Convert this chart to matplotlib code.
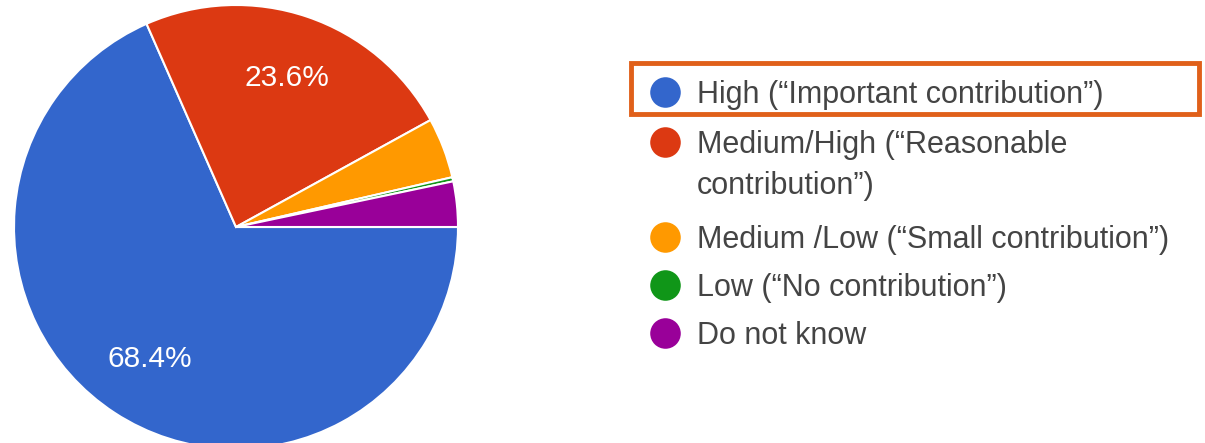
import matplotlib.pyplot as plt
from matplotlib.patches import Rectangle

plt.rcParams['font.family'] = ['Liberation Sans', 'DejaVu Sans']

# survey answers (share of respondents, %)
labels = [
    "High (\u201cImportant contribution\u201d)",
    "Medium/High (\u201cReasonable\ncontribution\u201d)",
    "Medium /Low (\u201cSmall contribution\u201d)",
    "Low (\u201cNo contribution\u201d)",
    "Do not know",
]
shares = [68.4, 23.6, 4.4, 0.3, 3.3]
colors = ["#3366CC", "#DC3912", "#FF9900", "#109618", "#990099"]

W, H = 1205, 443
fig = plt.figure(figsize=(W / 100, H / 100), dpi=100)

# pie: centre (236, 227) px, radius 222 px
cx, cy, r = 236, 227, 222
ax = fig.add_axes([(cx - r) / W, (H - cy - r) / H, 2 * r / W, 2 * r / H])


def pct(v):
    return f"{v:.1f}%" if v > 10 else ""


wedges, texts, autotexts = ax.pie(
    shares, colors=colors, startangle=0, counterclock=False,
    autopct=pct, pctdistance=0.71, radius=1,
    wedgeprops=dict(edgecolor="white", linewidth=1.5),
    textprops=dict(color="white", fontsize=21.5),
)
ax.set_xlim(-1, 1)
ax.set_ylim(-1, 1)
ax.axis("off")

# legend drawn in pixel coordinates
lg = fig.add_axes([0, 0, 1, 1])
lg.set_xlim(0, W)
lg.set_ylim(H, 0)
lg.axis("off")

rows = [92, 142, 237, 285, 333]
for y, lab, c in zip(rows, labels, colors):
    lg.plot(665, y, "o", markersize=22, color=c, markeredgewidth=0)
    for k, line in enumerate(lab.split("\n")):
        lg.text(697, y + 11 + 41 * k, line, fontsize=22, color="#444444",
                va="baseline", ha="left")

lg.add_patch(Rectangle((631, 63), 568, 51, fill=False,
                       edgecolor="#E0601A", linewidth=3.5))

fig.savefig("out.png", dpi=100)
